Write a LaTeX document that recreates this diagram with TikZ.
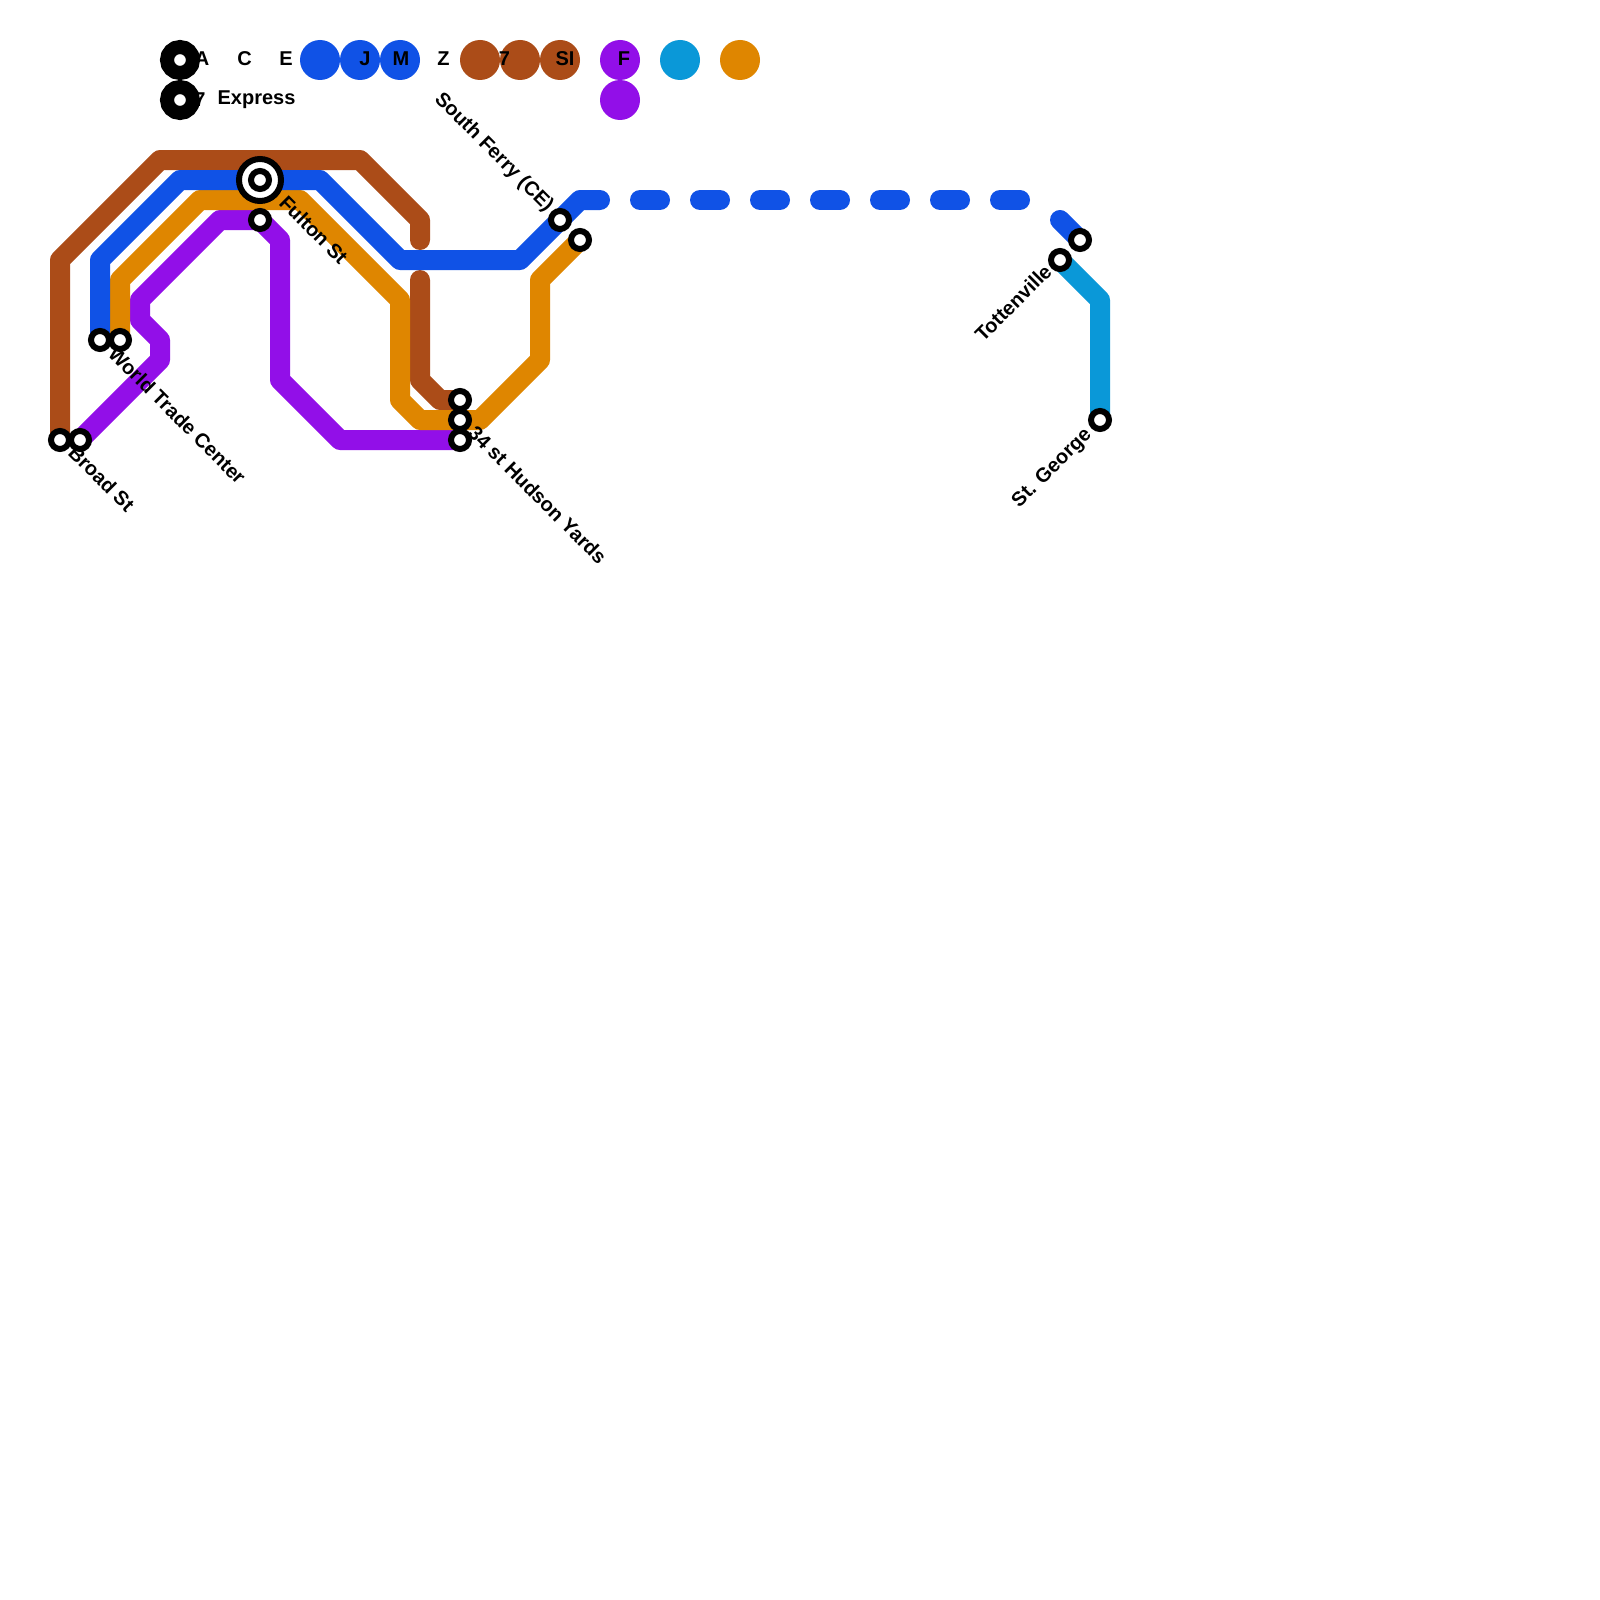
\documentclass[tikz,border=0pt]{standalone}
\usepackage{fontspec}
\setmainfont{Liberation Sans}
\definecolor{lblue}{HTML}{1052E6}
\definecolor{lbrown}{HTML}{AB4C18}
\definecolor{lorange}{HTML}{DF8600}
\definecolor{lpurple}{HTML}{920FE8}
\definecolor{lcyan}{HTML}{0A98D8}
\tikzset{
 route/.style={line width=20pt,line cap=round,line join=round},
 stationmark/.style={circle,draw=black,fill=white,line width=6pt,minimum size=18pt,inner sep=0pt},
 hubmark/.style={circle,draw=black,fill=white,line width=6pt,minimum size=42pt,inner sep=0pt},
 legendblack/.style={circle,draw=black,fill=white,line width=14pt,minimum size=26pt,inner sep=0pt},
 legenddot/.style={circle,minimum size=40pt,inner sep=0pt},
 txt/.style={font=\fontsize{20}{24}\selectfont\bfseries,inner sep=0pt,text=black},
 stationlabel/.style={txt,rotate=-45,anchor=west},
 stationlabelr/.style={txt,rotate=45,anchor=east},
 southlabel/.style={txt,rotate=-45,anchor=east}
}
\begin{document}
\begin{tikzpicture}[x=1pt,y=-1pt]
\useasboundingbox (0,0) rectangle (1600,1600);
\fill[white] (0,0) rectangle (1600,1600);
% station anchors
\coordinate (broadA) at (60,440);
\coordinate (broadB) at (80,440);
\coordinate (wtcA) at (100,340);
\coordinate (wtcB) at (120,340);
\coordinate (fultonA) at (260,180);
\coordinate (fultonB) at (260,220);
\coordinate (hudA) at (460,400);
\coordinate (hudB) at (460,420);
\coordinate (hudC) at (460,440);
\coordinate (sfA) at (560,220);
\coordinate (sfB) at (580,240);
\coordinate (tottA) at (1060,260);
\coordinate (tottB) at (1080,240);
\coordinate (stg) at (1100,420);
\coordinate (brownBreakA) at (420,240);
\coordinate (brownBreakB) at (420,280);
\coordinate (blueBreakA) at (600,200);
\coordinate (blueDiag) at (1060,220);
% routes
\draw[route,lbrown] (broadA) -- (60,260) -- (160,160) -- (360,160) -- (420,220) -- (brownBreakA);
\draw[route,lbrown] (brownBreakB) -- (420,380) -- (440,400) -- (hudA);
\draw[route,lpurple] (broadB) -- (160,360) -- (160,340) -- (140,320) -- (140,300) -- (220,220) -- (fultonB) -- (280,240) -- (280,380) -- (340,440) -- (hudC);
\draw[route,lorange] (wtcB) -- (120,280) -- (200,200) -- (300,200) -- (400,300) -- (400,400) -- (420,420) -- (480,420) -- (540,360) -- (540,280) -- (sfB);
\draw[route,lblue] (wtcA) -- (100,260) -- (180,180) -- (320,180) -- (400,260) -- (520,260) -- (580,200) -- (blueBreakA);
\foreach \d in {640,700,760,820,880,940,1000}{
 \draw[route,lblue] (\d,200) -- (\d+20,200);
}
\draw[route,lblue] (blueDiag) -- (tottB);
\draw[route,lcyan] (tottA) -- (1100,300) -- (stg);
% legend discs
\node[legenddot,fill=lblue] (lgB1) at (320,60) {};
\node[legenddot,fill=lblue] (lgB2) at (360,60) {};
\node[legenddot,fill=lblue] (lgB3) at (400,60) {};
\node[legenddot,fill=lbrown] (lgR1) at (480,60) {};
\node[legenddot,fill=lbrown] (lgR2) at (520,60) {};
\node[legenddot,fill=lbrown] (lgR3) at (560,60) {};
\node[legenddot,fill=lpurple] (lgP1) at (620,60) {};
\node[legenddot,fill=lpurple] (lgP2) at (620,100) {};
\node[legenddot,fill=lcyan] (lgC) at (680,60) {};
\node[legenddot,fill=lorange] (lgO) at (740,60) {};
% legend text
\node[txt] (tA) at (202,59) {A};
\node[txt] (tC) at (244.5,59) {C};
\node[txt] (tE) at (286,59) {E};
\node[txt] (tJ) at (365,59) {J};
\node[txt] (tM) at (401,59) {M};
\node[txt] (tZ) at (443.5,59) {Z};
\node[txt] (t7) at (504.5,59) {7};
\node[txt] (tSI) at (565,59) {SI};
\node[txt] (tF) at (624,59) {F};
\node[txt] (t7b) at (200,100) {7};
\node[txt] (tEx) at (256.5,100) {Express};
\node[legendblack] (lgK1) at (180,60) {};
\node[legendblack] (lgK2) at (180,100) {};
% stations
\node[hubmark] (hub) at (fultonA) {};
\node[stationmark] (nFultonA) at (fultonA) {};
\foreach \s in {broadA,broadB,wtcA,wtcB,fultonB,hudA,hudB,hudC,sfA,sfB,tottA,tottB,stg}{
 \node[stationmark] (n\s) at (\s) {};
}
% labels
\node[stationlabel] (lBroad) at (72,449) {Broad St};
\node[stationlabel] (lWtc) at (112,350) {World Trade Center};
\node[stationlabel] (lFulton) at (283,199) {Fulton St};
\node[stationlabel] (lHud) at (472,429) {34 st Hudson Yards};
\node[southlabel] (lSouth) at (550,209) {South Ferry (CE)};
\node[stationlabelr] (lTott) at (1048,268) {Tottenville};
\node[stationlabelr] (lStg) at (1089,432) {St. George};
\end{tikzpicture}
\end{document}
